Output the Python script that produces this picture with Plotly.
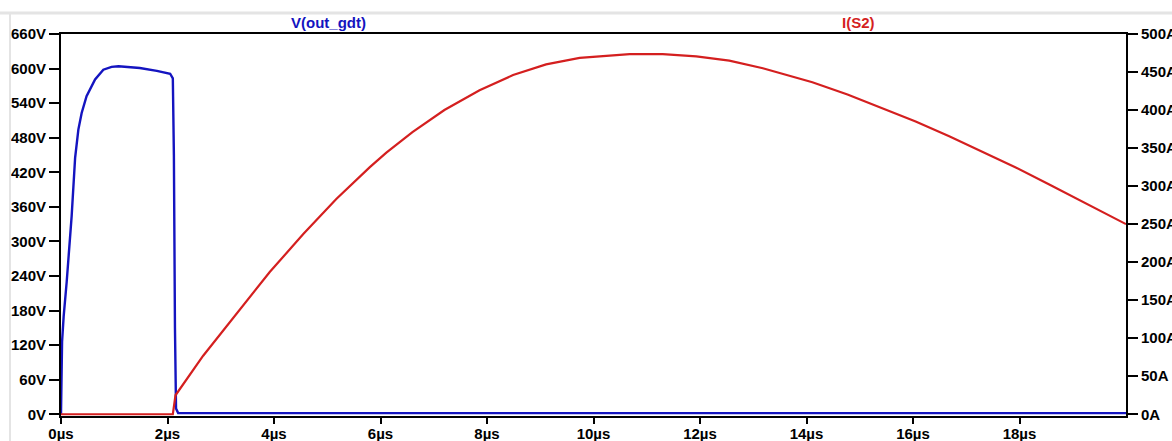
import plotly.graph_objects as go

# ---- data ----
time_v_us = [0, 0.005, 0.02, 0.05, 0.107, 0.2, 0.265, 0.326, 0.388, 0.48, 0.64, 0.795,
             0.95, 1.08, 1.3, 1.48, 1.8, 2.05, 2.10, 2.12, 2.14, 2.16, 2.2, 4, 8, 12, 16, 20]
v_out_gdt = [0, 100, 126, 170, 230, 344, 445, 494, 523, 552, 581, 598,
             603, 604, 603, 601, 596, 591, 583, 450, 150, 10, 2, 2, 3, 3, 2, 2]

time_i_us = [0, 2.10, 2.13, 2.15, 2.67, 3.30, 3.92, 4.55, 5.17, 5.80, 6.11, 6.6, 7.2,
             7.86, 8.49, 9.11, 9.74, 10.68, 11.30, 11.93, 12.55, 13.18, 14.11, 14.77,
             15.40, 16.05, 16.68, 17.30, 17.93, 18.55, 19.18, 20.0]
i_s2 = [0, 0, 15, 25, 77, 133, 187, 237, 283, 325, 344, 371, 400,
        426, 446, 460, 468.5, 473.5, 473.5, 470.5, 465, 455, 436.5, 420.5,
        403.5, 385, 365.5, 345.5, 324.5, 302.5, 280, 250]

x_tickvals = [0, 2, 4, 6, 8, 10, 12, 14, 16, 18]
x_ticktext = ["0µs", "2µs", "4µs", "6µs", "8µs", "10µs", "12µs", "14µs", "16µs", "18µs"]

BLUE = "#1414c0"
RED = "#d41f1f"
FAM = "Liberation Sans, Arial, sans-serif"
TICKFONT = dict(family=FAM, size=15, color="black", weight="bold")

fig = go.Figure()
fig.add_trace(go.Scatter(x=time_i_us, y=i_s2, mode="lines", yaxis="y2",
                         line=dict(color=RED, width=2.2), name="I(S2)"))
fig.add_trace(go.Scatter(x=time_v_us, y=v_out_gdt, mode="lines",
                         line=dict(color=BLUE, width=2.4), name="V(out_gdt)"))

L, R, T, B = 61, 46, 34, 25
axis_common = dict(showgrid=False, zeroline=False, showline=True,
                   linecolor="black", linewidth=2, ticks="outside",
                   tickwidth=2, tickcolor="black", layer="below traces",
                   tickfont=TICKFONT, automargin=False)
VLOW = -3
fig.update_layout(
    width=1172, height=441,
    margin=dict(l=L, r=R, t=T, b=B, autoexpand=False),
    paper_bgcolor="white", plot_bgcolor="white",
    showlegend=False,
    font=dict(family=FAM),
    xaxis=dict(range=[0, 20], tickvals=x_tickvals, ticktext=x_ticktext,
               mirror=True, ticklen=6, ticklabelstandoff=-3, **axis_common),
    yaxis=dict(range=[VLOW, 660], dtick=60, tick0=0, ticksuffix="V",
               ticklen=10, ticklabelstandoff=0, **axis_common),
    yaxis2=dict(range=[VLOW * 500 / 660, 500], dtick=50, tick0=0, ticksuffix="A",
                overlaying="y", side="right",
                ticklen=10, ticklabelstandoff=0, **axis_common),
)

pw = 1172 - L - R
ph = 441 - T - B
def px_x(px):
    return (px - L) / pw
def px_y(py):
    return (441 - B - py) / ph

fig.add_annotation(text="<b>V(out_gdt)</b>", x=px_x(328), y=px_y(23), xref="paper", yref="paper",
                   xanchor="center", yanchor="middle", showarrow=False,
                   font=dict(family=FAM, size=15, color=BLUE))
fig.add_annotation(text="<b>I(S2)</b>", x=px_x(858), y=px_y(23), xref="paper", yref="paper",
                   xanchor="center", yanchor="middle", showarrow=False,
                   font=dict(family=FAM, size=15, color=RED))

# window border lines
fig.add_shape(type="line", xref="paper", yref="paper", x0=px_x(0), x1=px_x(1172),
              y0=px_y(13), y1=px_y(13), line=dict(color="#e4e4e4", width=3))
fig.add_shape(type="line", xref="paper", yref="paper", x0=px_x(10), x1=px_x(10),
              y0=px_y(13), y1=px_y(441), line=dict(color="#e4e4e4", width=2))

fig.write_html("out.html", config={"displayModeBar": False},
               post_script="document.body.style.margin='0';document.body.style.padding='0';")
